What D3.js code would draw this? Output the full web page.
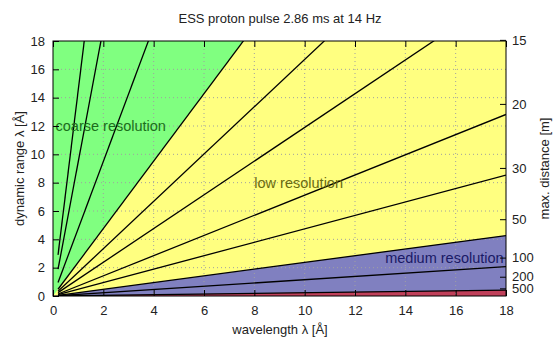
<!DOCTYPE html>
<html>
<head>
<meta charset="utf-8">
<script src="https://cdn.jsdelivr.net/npm/d3@7"></script>
<style>
  body { margin: 0; background: #fff; }
  text { font-family: "Liberation Sans", Arial, sans-serif; }
</style>
</head>
<body>
<svg id="chart" width="554" height="338"></svg>
<script>
// ticks
var xTicks = [0, 2, 4, 6, 8, 10, 12, 14, 16, 18];
var yTicks = [0, 2, 4, 6, 8, 10, 12, 14, 16, 18];
// right axis: max. distance [m] and where it sits on the dynamic range axis
var distLabels = [15, 20, 30, 50, 100, 200, 500];
var distRange = [18.08, 13.56, 9.04, 5.42, 2.71, 1.36, 0.54];

// slopes (dynamic range per wavelength)
var regionSlopes = [2.38, 0.237, 0.0233];        // coarse/low, low/medium, medium/high
var regionColors = ["#ffff80", "#8080c0", "#c0405a"];
var lineSlopes = [14.5, 9.45, 4.75, 1.67, 1.19, 0.712, 0.474, 0.115];
var lineStart = 0.2;

var labels = [
  {text: "coarse resolution", x: 0.1, y: 12, color: "#1a6e1a"},
  {text: "low resolution", x: 8, y: 8, color: "#6b6b10"},
  {text: "medium resolution", x: 13.2, y: 2.7, color: "#1a1a66"}
];

var svg = d3.select("#chart");
var pLeft = 53, pRight = 506, pTop = 41, pBottom = 296;

var x = d3.scaleLinear().domain([0, 18]).range([pLeft, pRight]);
var y = d3.scaleLinear().domain([0, 18]).range([pBottom, pTop]);

svg.append("defs").append("clipPath").attr("id", "plotclip")
  .append("rect").attr("x", pLeft).attr("y", pTop)
  .attr("width", pRight - pLeft).attr("height", pBottom - pTop);

var plot = svg.append("g").attr("clip-path", "url(#plotclip)");

// green background = coarse resolution
plot.append("rect").attr("x", pLeft).attr("y", pTop)
  .attr("width", pRight - pLeft).attr("height", pBottom - pTop)
  .attr("fill", "#80ff80");

// everything below each boundary line
var far = 18;
regionSlopes.forEach(function(s, i) {
  var pts = [[0, 0], [far, far * s], [far, 0]];
  plot.append("path")
    .attr("d", d3.line().x(function(d) { return x(d[0]); }).y(function(d) { return y(d[1]); })(pts) + "Z")
    .attr("fill", regionColors[i]);
});

// grid
plot.selectAll(".gx").data(xTicks.slice(1, -1)).enter().append("line")
  .attr("x1", function(d) { return x(d); }).attr("x2", function(d) { return x(d); })
  .attr("y1", pTop).attr("y2", pBottom)
  .attr("stroke", "#a0a0a0").attr("stroke-width", 1).attr("stroke-dasharray", "1,3");
plot.selectAll(".gy").data(yTicks.slice(1, -1)).enter().append("line")
  .attr("y1", function(d) { return y(d); }).attr("y2", function(d) { return y(d); })
  .attr("x1", pLeft).attr("x2", pRight)
  .attr("stroke", "#a0a0a0").attr("stroke-width", 1).attr("stroke-dasharray", "1,3");

// resolution lines
var allLines = lineSlopes.concat(regionSlopes);
allLines.forEach(function(s) {
  plot.append("line")
    .attr("x1", x(lineStart)).attr("y1", y(lineStart * s))
    .attr("x2", x(far)).attr("y2", y(far * s))
    .attr("stroke", "#000").attr("stroke-width", 1.3);
});

// labels
labels.forEach(function(l) {
  svg.append("text").attr("x", x(l.x)).attr("y", y(l.y)).attr("dy", "0.35em")
    .attr("font-size", 14.5).attr("fill", l.color).text(l.text);
});

// frame
svg.append("rect").attr("x", pLeft).attr("y", pTop)
  .attr("width", pRight - pLeft).attr("height", pBottom - pTop)
  .attr("fill", "none").attr("stroke", "#000").attr("stroke-width", 1);

// axes, ticks point inward
var tk = 6;
var xAxis = d3.axisBottom(x).tickValues(xTicks).tickSizeInner(-tk).tickSizeOuter(0).tickPadding(10);
var gx = svg.append("g").attr("transform", "translate(0," + pBottom + ")").call(xAxis);
var xTop = d3.axisTop(x).tickValues(xTicks).tickSizeInner(-tk).tickSizeOuter(0).tickFormat("");
var gxt = svg.append("g").attr("transform", "translate(0," + pTop + ")").call(xTop);
var yAxis = d3.axisLeft(y).tickValues(yTicks).tickSizeInner(-tk).tickSizeOuter(0).tickPadding(8);
var gy = svg.append("g").attr("transform", "translate(" + pLeft + ",0)").call(yAxis);
var y2Axis = d3.axisRight(y).tickValues(distRange).tickSizeInner(-tk).tickSizeOuter(0).tickPadding(6)
  .tickFormat(function(d, i) { return distLabels[i]; });
var gy2 = svg.append("g").attr("transform", "translate(" + pRight + ",0)").call(y2Axis);

[gx, gxt, gy, gy2].forEach(function(g) {
  g.select(".domain").remove();
  g.selectAll("text").attr("font-size", 13).attr("fill", "#222")
    .attr("font-family", "Liberation Sans, Arial, sans-serif");
  g.selectAll("line").attr("stroke", "#000");
});

// titles
svg.append("text").attr("x", 280).attr("y", 23).attr("text-anchor", "middle")
  .attr("font-size", 13).attr("fill", "#222").text("ESS proton pulse 2.86 ms at 14 Hz");
svg.append("text").attr("x", 280).attr("y", 334).attr("text-anchor", "middle")
  .attr("font-size", 13).attr("fill", "#222").text("wavelength λ [Å]");
svg.append("text").attr("transform", "translate(24," + ((pTop + pBottom) / 2) + ") rotate(-90)")
  .attr("text-anchor", "middle").attr("font-size", 13).attr("fill", "#222")
  .text("dynamic range λ [Å]");
svg.append("text").attr("transform", "translate(549," + ((pTop + pBottom) / 2) + ") rotate(-90)")
  .attr("text-anchor", "middle").attr("font-size", 13).attr("fill", "#222")
  .text("max. distance [m]");
</script>
</body>
</html>
